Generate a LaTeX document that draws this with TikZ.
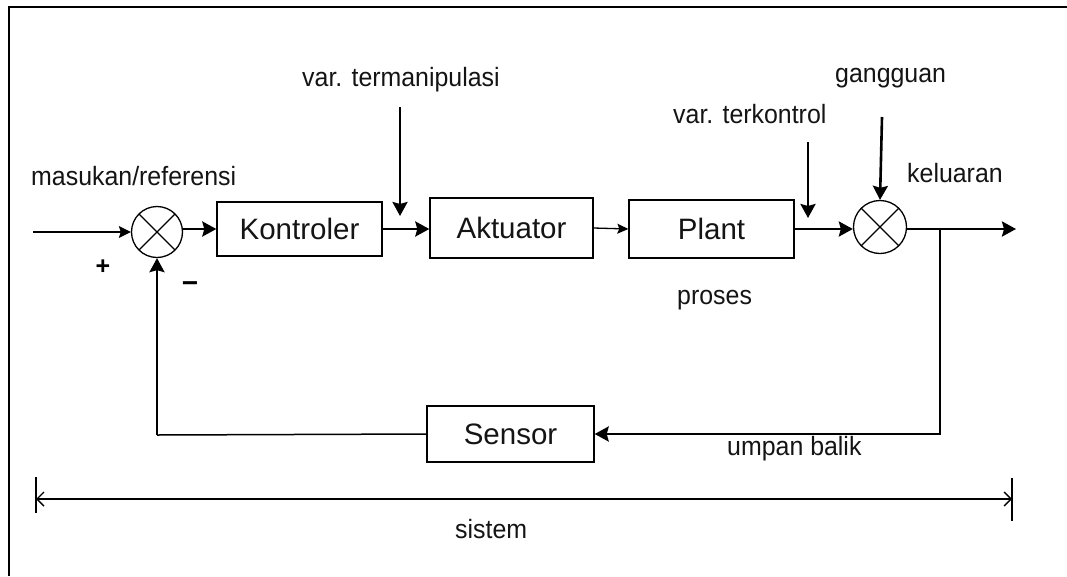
\documentclass[tikz,border=0pt]{standalone}
\usepackage{fontspec}
\setmainfont{Liberation Sans}
\newfontfamily\lblfont[FakeStretch=0.94]{Liberation Sans}
\usetikzlibrary{arrows.meta}
\tikzset{
  lbl/.style={inner sep=0pt, anchor=base west, font=\lblfont\fontsize{26.5}{30}\selectfont, text=black!92},
  blk/.style={draw, line width=1.4pt, inner sep=0pt, font=\fontsize{29.5}{34}\selectfont, text=black!92},
  sumj/.style={draw, circle, line width=1.3pt, inner sep=0pt, minimum size=#1,
    path picture={\draw[line width=1.2pt] (path picture bounding box.north west) -- (path picture bounding box.south east)
      (path picture bounding box.north east) -- (path picture bounding box.south west);}},
  thickarr/.style={line width=2.6pt, -{Stealth[length=14pt,width=15pt,inset=2pt]}},
  thinarr/.style={line width=1.4pt, -{Stealth[length=12pt,width=12pt,inset=2pt]}},
  frameline/.style={line width=2pt},
  sysarr/.style={line width=1.4pt, {Straight Barb[length=7pt,width=14pt]}-{Straight Barb[length=7pt,width=14pt]}},
}
\begin{document}
\begin{tikzpicture}[x=1pt,y=-1pt]
\useasboundingbox (0,0) rectangle (1067,576);
% frame (top and left edges only)
\draw[frameline] (8.5,576) -- (8.5,7) -- (1067,7);

% blocks
\node[blk, minimum width=165pt, minimum height=54pt] (k) at (299.5,229) {Kontroler};
\node[blk, minimum width=163pt, minimum height=60pt] (a) at (511.5,228) {Aktuator};
\node[blk, minimum width=165pt, minimum height=58pt] (p) at (711.5,229) {Plant};
\node[blk, minimum width=167pt, minimum height=56pt] (sen) at (510.5,434) {Sensor};

% summing junctions
\node[sumj=51pt] (s1) at (157,232) {};
\node[sumj=53pt] (s2) at (880,227) {};

% labels
\node[lbl] (tin) at (31,185) {masukan/referensi};
\node[lbl] (tman) at (302,86) {var. termanipulasi};
\node[lbl] (tkon) at (673,123) {var. terkontrol};
\node[lbl] (tgan) at (835,82) {gangguan};
\node[lbl] (tkel) at (907,182) {keluaran};
\node[lbl] (tpro) at (677,304) {proses};
\node[lbl] (tump) at (727,455) {umpan balik};
\node[lbl] (tsis) at (455,538) {sistem};
\node[inner sep=0pt, font=\fontsize{25}{30}\selectfont\bfseries] (plus) at (103,267) {+};
\node[inner sep=0pt, font=\fontsize{28}{30}\selectfont\bfseries] (minus) at (190,287) {−};

% coordinates
\coordinate (inA) at (33,232);
\coordinate (vm1) at (400,107);
\coordinate (vm2) at (400,216);
\coordinate (vt1) at (808,142);
\coordinate (vt2) at (808,218);
\coordinate (g1) at (882,117);
\coordinate (out) at (1016,229);
\coordinate (fb) at (940,229);
\coordinate (fbl) at (157,435);
\coordinate (sysL) at (36,499);
\coordinate (sysR) at (1012,499);
\coordinate (bL1) at (36,477);
\coordinate (bL2) at (36,513);
\coordinate (bR1) at (1012,478);
\coordinate (bR2) at (1012,521);

% forward path
\draw[thinarr] (inA) -- (s1.west);
\draw[thickarr] (s1.east |- k.west) -- (k.west);
\draw[thickarr] (k.east) -- (k.east -| a.west);
\draw[line width=1.3pt, -{Stealth[length=11pt,width=10pt,inset=2pt]}] (a.east) -- (p.west);
\draw[thickarr] (p.east) -- (p.east -| s2.west);
\draw[thickarr] (s2.east |- out) -- (out);

% disturbance / annotations
\draw[thickarr] (vm1) -- (vm2);
\draw[thickarr] (vt1) -- (vt2);
\draw[thickarr] (g1) -- (s2.north);

% feedback
\draw[thickarr] (fb) |- (sen.east);
\draw[line width=1.5pt] (sen.west) -- (fbl);
\draw[thickarr] (fbl) -- (s1.south);

% system span
\draw[sysarr] (sysL) -- (sysR);
\draw[line width=1.3pt] (bL1) -- (bL2);
\draw[line width=1.3pt] (bR1) -- (bR2);
\end{tikzpicture}
\end{document}
